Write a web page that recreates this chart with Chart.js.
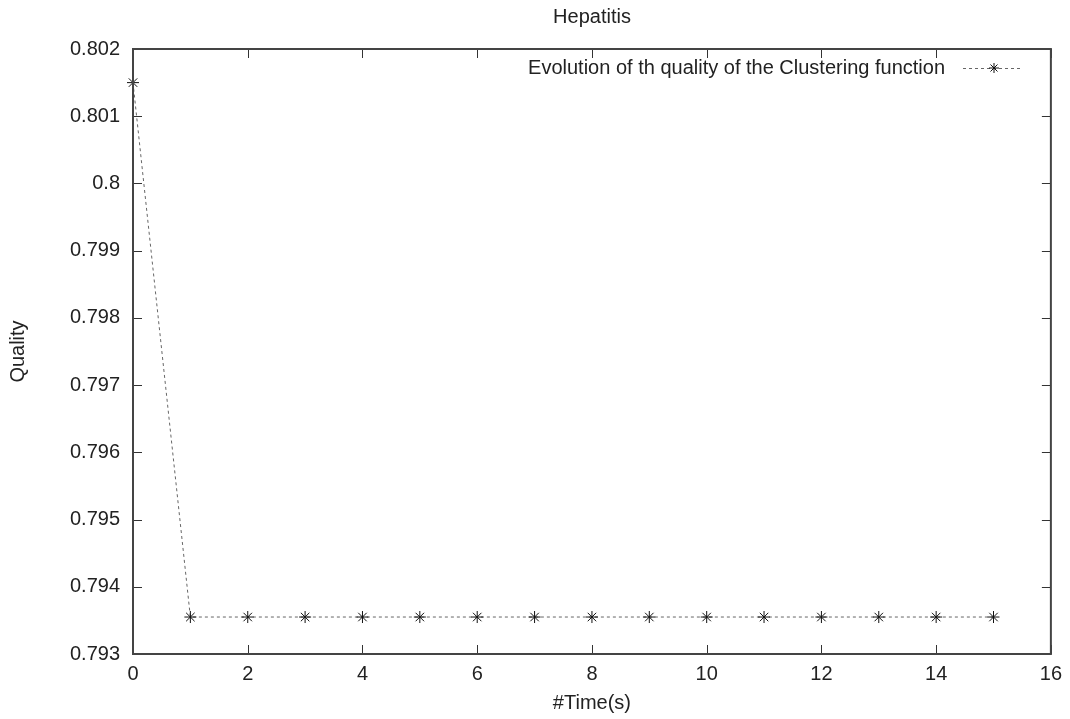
<!DOCTYPE html>
<html>
<head>
<meta charset="utf-8">
<script src="https://cdn.jsdelivr.net/npm/chart.js@4"></script>
<style>
  html, body { margin: 0; padding: 0; background: #fff; }
  #wrap { width: 1070px; height: 719px; }
</style>
</head>
<body>
<div id="wrap"><canvas id="chart" width="1070" height="719"></canvas></div>
<script>
// Дані з графіка
const timeValues = [0, 1, 2, 3, 4, 5, 6, 7, 8, 9, 10, 11, 12, 13, 14, 15];
const qualityValues = [0.8015, 0.79355, 0.79355, 0.79355, 0.79355, 0.79355, 0.79355, 0.79355,
  0.79355, 0.79355, 0.79355, 0.79355, 0.79355, 0.79355, 0.79355, 0.79355];
const xTicks = [0, 2, 4, 6, 8, 10, 12, 14, 16];
const yTicks = [0.793, 0.794, 0.795, 0.796, 0.797, 0.798, 0.799, 0.8, 0.801, 0.802];
const seriesLabel = "Evolution of th quality of the Clustering function";
const chartTitle = "Hepatitis";

const FONT = "'Liberation Sans', Arial, sans-serif";
const FSIZE = 20;

// Засічки всередину на всіх чотирьох сторонах (стиль gnuplot)
const innerTicks = {
  id: "innerTicks",
  afterDraw(chart) {
    const { ctx, chartArea: a, scales } = chart;
    ctx.save();
    ctx.strokeStyle = "#333";
    ctx.lineWidth = 1;
    const len = 9;
    ctx.beginPath();
    xTicks.forEach(v => {
      const px = Math.round(scales.x.getPixelForValue(v)) + 0.5;
      ctx.moveTo(px, a.bottom); ctx.lineTo(px, a.bottom - len);
      ctx.moveTo(px, a.top); ctx.lineTo(px, a.top + len);
    });
    yTicks.forEach(v => {
      const py = Math.round(scales.y.getPixelForValue(v)) + 0.5;
      ctx.moveTo(a.left, py); ctx.lineTo(a.left + len, py);
      ctx.moveTo(a.right, py); ctx.lineTo(a.right - len, py);
    });
    ctx.stroke();
    ctx.lineWidth = 2;
    ctx.strokeStyle = "#444";
    ctx.strokeRect(a.left, a.top, a.right - a.left, a.bottom - a.top);
    ctx.restore();
  }
};

// Легенда як у gnuplot: текст, потім зразок лінії
const gnuLegend = {
  id: "gnuLegend",
  afterDraw(chart) {
    const { ctx } = chart;
    const y = 68;
    const x1 = 963, x2 = 1022;
    ctx.save();
    ctx.font = FSIZE + "px " + FONT;
    ctx.fillStyle = "#222";
    ctx.textAlign = "right";
    ctx.textBaseline = "middle";
    ctx.fillText(seriesLabel, 945, y);
    ctx.strokeStyle = "#666";
    ctx.lineWidth = 1;
    ctx.setLineDash([3, 3]);
    ctx.beginPath();
    ctx.moveTo(x1, y + 0.5); ctx.lineTo(x2, y + 0.5);
    ctx.stroke();
    ctx.setLineDash([]);
    const cx = 994, r = 5;
    ctx.strokeStyle = "#111";
    ctx.beginPath();
    ctx.moveTo(cx - r, y); ctx.lineTo(cx + r, y);
    ctx.moveTo(cx, y - r); ctx.lineTo(cx, y + r);
    ctx.moveTo(cx - r * 0.7, y - r * 0.7); ctx.lineTo(cx + r * 0.7, y + r * 0.7);
    ctx.moveTo(cx - r * 0.7, y + r * 0.7); ctx.lineTo(cx + r * 0.7, y - r * 0.7);
    ctx.stroke();
    ctx.restore();
  }
};

// Заголовок над графіком
const titleText = {
  id: "titleText",
  afterDraw(c) {
    const { ctx } = c;
    ctx.save();
    ctx.font = FSIZE + "px " + FONT;
    ctx.fillStyle = "#222";
    ctx.textAlign = "center";
    ctx.textBaseline = "middle";
    ctx.fillText(chartTitle, 592, 17);
    ctx.restore();
  }
};

const ctx = document.getElementById("chart").getContext("2d");
const chart = new Chart(ctx, {
  type: "line",
  data: {
    datasets: [{
      label: seriesLabel,
      data: timeValues.map((t, i) => ({ x: t, y: qualityValues[i] })),
      borderColor: "#666",
      borderWidth: 1,
      borderDash: [3, 3],
      pointStyle: "star",
      pointRadius: 6,
      pointBorderColor: "#111",
      pointBorderWidth: 1,
      pointBackgroundColor: "#111",
      tension: 0,
      fill: false,
      clip: false
    }]
  },
  plugins: [innerTicks, gnuLegend, titleText],
  options: {
    responsive: false,
    animation: false,
    layout: { padding: { top: 49, right: 19, left: 0, bottom: 0 } },
    plugins: {
      legend: { display: false },
      tooltip: { enabled: false },
      title: { display: false }
    },
    scales: {
      x: {
        type: "linear",
        min: 0, max: 16,
        afterBuildTicks: s => { s.ticks = xTicks.map(v => ({ value: v })); },
        grid: { display: false, drawTicks: false },
        border: { display: false },
        ticks: { color: "#222", font: { family: FONT, size: FSIZE }, padding: 8, maxRotation: 0 },
        title: { display: true, text: "#Time(s)", color: "#222", font: { family: FONT, size: FSIZE }, padding: { top: 0, bottom: 4 } },
        afterFit: s => { s.height = 65; }
      },
      y: {
        min: 0.793, max: 0.802,
        afterBuildTicks: s => { s.ticks = yTicks.map(v => ({ value: v })); },
        grid: { display: false, drawTicks: false },
        border: { display: false },
        ticks: {
          color: "#222", font: { family: FONT, size: FSIZE }, padding: 13,
          callback: v => String(Number(v.toFixed(3)))
        },
        title: { display: true, text: "Quality", color: "#222", font: { family: FONT, size: FSIZE }, padding: { top: 6, bottom: 0 } },
        afterFit: s => { s.width = 133; }
      }
    }
  }
});
</script>
</body>
</html>
